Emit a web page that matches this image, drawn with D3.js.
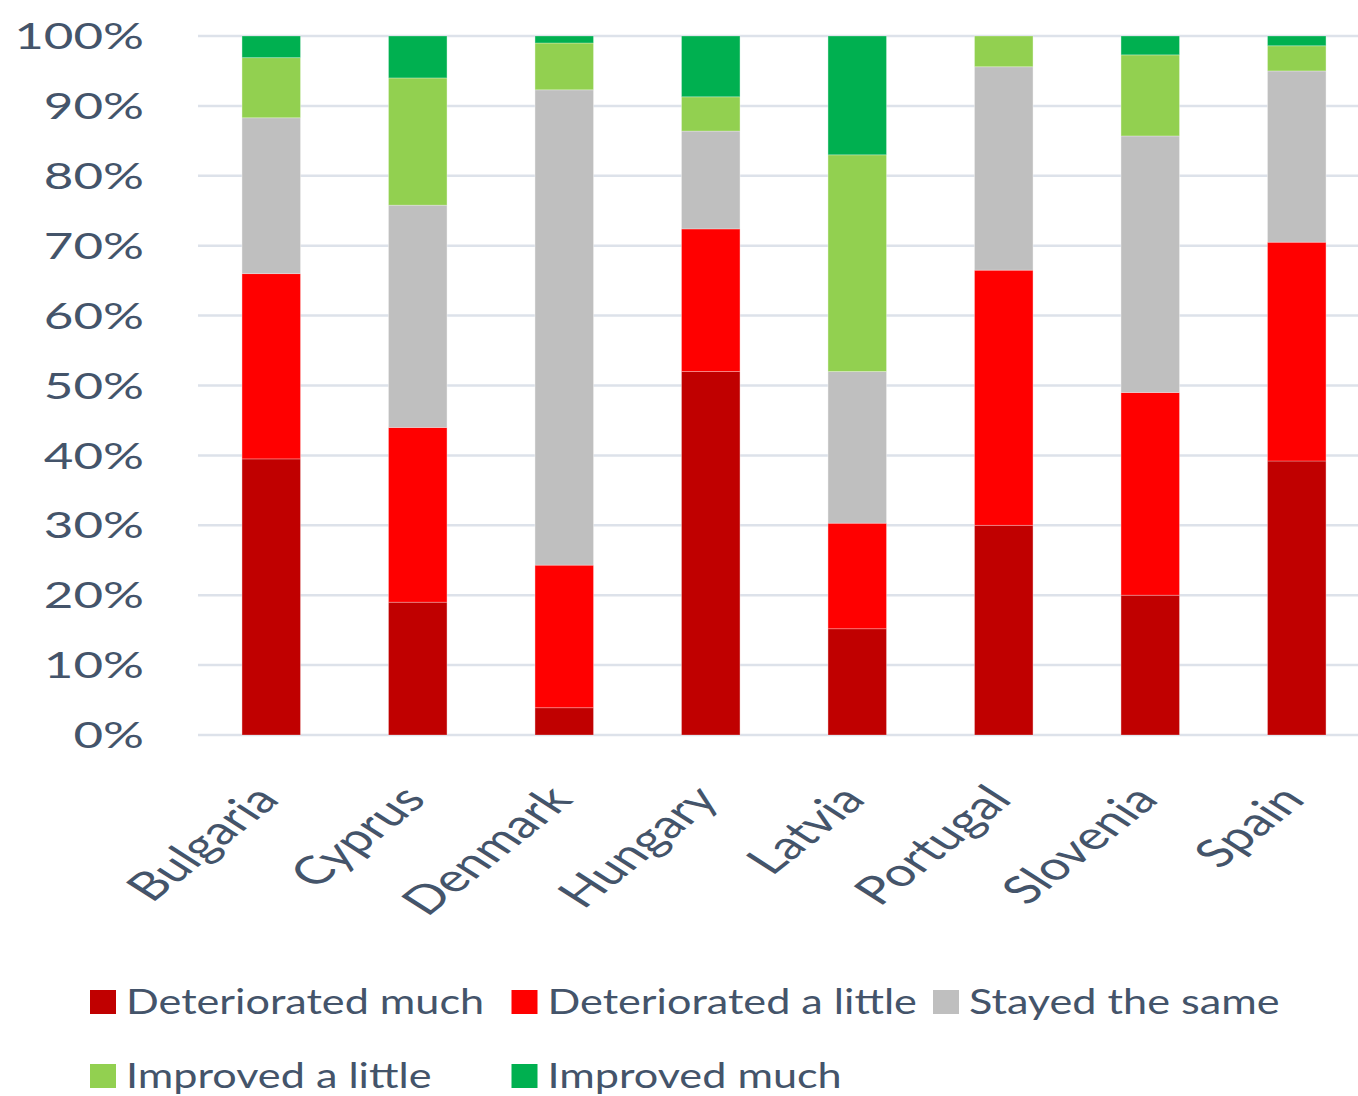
<!DOCTYPE html>
<html>
<head>
<meta charset="utf-8">
<script src="https://cdn.jsdelivr.net/npm/d3@7"></script>
<style>
  body { margin: 0; background: #fff; }
  text { font-family: Lato, "Open Sans", sans-serif; fill: #44546a; }
</style>
</head>
<body>
<div id="container"></div>
<script>
// chart values (percent of respondents)
var countries = ['Bulgaria', 'Cyprus', 'Denmark', 'Hungary', 'Latvia', 'Portugal', 'Slovenia', 'Spain'];
var seriesNames = ['Deteriorated much', 'Deteriorated a little', 'Stayed the same', 'Improved a little', 'Improved much'];
var deterioratedMuch   = [39.5, 19.0,  3.9, 52.0, 15.2, 30.0, 20.0, 39.2];
var deterioratedLittle = [26.5, 25.0, 20.4, 20.4, 15.1, 36.5, 29.0, 31.3];
var stayedSame         = [22.3, 31.8, 68.0, 14.0, 21.7, 29.1, 36.7, 24.5];
var improvedLittle     = [ 8.6, 18.2,  6.7,  4.9, 31.0,  4.4, 11.6,  3.6];
var improvedMuch       = [ 3.1,  6.0,  1.0,  8.7, 17.0,  0.0,  2.7,  1.4];
var yTicks = [0, 10, 20, 30, 40, 50, 60, 70, 80, 90, 100];
var Colors = ['#c00000', '#ff0000', '#bfbfbf', '#92d050', '#00b050'];

function drawChart(id, width, height){
    var sx = 1.4;   // the picture is stretched sideways
    var svg = d3.select('#'+id)
        .append('svg')
        .attr('width', width)
        .attr('height', height);
    var chart = svg.append('g').attr('transform', 'scale('+sx+',1)');

    var left = 198/sx, right = 1370/sx, top = 36, bottom = 735;

    var x = d3.scaleBand().domain(countries).range([left, right]).paddingInner(0.6).paddingOuter(0.3);
    var y = d3.scaleLinear().domain([0, 100]).range([bottom, top]);

    // grid
    chart.append('g').selectAll('line')
        .data(yTicks).enter().append('line')
        .attr('x1', left).attr('x2', width/sx)
        .attr('y1', function(d){ return y(d); })
        .attr('y2', function(d){ return y(d); })
        .attr('stroke', '#dde2ea')
        .attr('stroke-width', 2.5);

    // y labels
    chart.append('g').selectAll('text')
        .data(yTicks).enter().append('text')
        .attr('x', 144/sx)
        .attr('y', function(d){ return y(d); })
        .attr('dy', '0.36em')
        .attr('text-anchor', 'end')
        .attr('font-size', 36.5)
        .text(function(d){ return d+'%'; });

    var rows = countries.map(function(c, i){
        return {country: c,
            d0: deterioratedMuch[i], d1: deterioratedLittle[i], d2: stayedSame[i],
            d3: improvedLittle[i], d4: improvedMuch[i]};
    });
    var stack = d3.stack().keys(['d0', 'd1', 'd2', 'd3', 'd4'])(rows);

    chart.append('g').selectAll('g')
        .data(stack).enter().append('g')
        .attr('fill', function(d, i){ return Colors[i]; })
        .selectAll('rect')
        .data(function(d){ return d; }).enter().append('rect')
        .attr('x', function(d){ return x(d.data.country); })
        .attr('width', x.bandwidth())
        .attr('y', function(d){ return y(d[1]); })
        .attr('height', function(d){ return y(d[0]) - y(d[1]); })
        .attr('stroke', '#ffffff')
        .attr('stroke-opacity', 0.35)
        .attr('stroke-width', 0.8);

    // x labels
    chart.append('g').selectAll('text')
        .data(countries).enter().append('text')
        .attr('transform', function(d){
            var cx = x(d) + x.bandwidth()/2 + 10/sx;
            return 'translate('+cx+',801) rotate(-48)';
        })
        .attr('text-anchor', 'end')
        .attr('font-size', 39)
        .text(function(d){ return d; });

    // legend
    var legend = svg.append('g');
    var colW = 421.5, rowH = 74;
    var items = legend.selectAll('g')
        .data(seriesNames).enter().append('g')
        .attr('transform', function(d, i){
            return 'translate('+(90 + (i%3)*colW)+','+(1002 + Math.floor(i/3)*rowH)+')';
        });
    items.append('rect')
        .attr('x', 0).attr('y', -12)
        .attr('width', 26).attr('height', 24)
        .attr('fill', function(d, i){ return Colors[i]; });
    items.append('text')
        .attr('transform', 'translate(36,0) scale(1.27,1)')
        .attr('dy', '0.35em')
        .attr('font-size', 34)
        .text(function(d){ return d; });
}

drawChart('container', 1358, 1096);
</script>
</body>
</html>
